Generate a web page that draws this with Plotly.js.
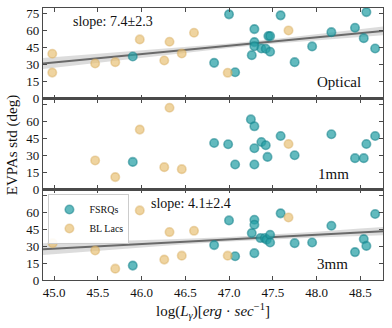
<!DOCTYPE html>
<html>
<head>
<meta charset="utf-8">
<script src="https://cdn.plot.ly/plotly-3.0.1.min.js"></script>
<style>
  html, body { margin: 0; padding: 0; background: #fff; }
  #chart { width: 392px; height: 328px; }
</style>
</head>
<body>
<div id="chart"></div>
<script>
// ---- data ------------------------------------------------------------------
// Optical
const optFsrqX = [45.90, 47.00, 46.83, 47.07, 47.59, 47.29, 47.29, 47.29, 47.26, 47.37, 47.42, 47.45, 47.47, 47.47, 47.75, 47.95, 48.17, 48.44, 48.54, 48.57, 48.67];
const optFsrqY = [37.2, 74.4, 31.6, 23.3, 73.5, 61.4, 49.9, 46.3, 38.4, 44.3, 44.0, 55.2, 55.2, 41.4, 32.2, 46.1, 58.7, 62.6, 53.4, 76.4, 44.3];
const optBllX  = [44.98, 44.98, 45.47, 45.70, 45.98, 46.26, 46.32, 46.46, 46.60, 46.985, 47.68];
const optBllY  = [39.6, 23.0, 31.0, 32.2, 52.3, 33.7, 50.2, 39.9, 58.2, 22.8, 60.2];
// 1mm
const mmFsrqX = [45.90, 46.83, 46.99, 47.07, 47.25, 47.29, 47.29, 47.29, 47.37, 47.42, 47.44, 47.59, 47.75, 48.17, 48.44, 48.54, 48.57, 48.67];
const mmFsrqY = [24.2, 40.9, 39.8, 21.9, 61.7, 55.6, 36.3, 21.9, 41.8, 38.9, 28.6, 47.1, 30.1, 48.6, 27.5, 27.5, 40.0, 47.1];
const mmBllX  = [45.47, 45.70, 45.98, 46.32, 46.26, 46.46, 47.68];
const mmBllY  = [25.5, 10.8, 52.7, 72.0, 19.6, 17.8, 40.0];
// 3mm
const m3FsrqX = [45.90, 46.83, 47.00, 47.07, 47.29, 47.29, 47.26, 47.29, 47.59, 47.36, 47.41, 47.43, 47.47, 47.47, 47.75, 47.95, 48.17, 48.44, 48.54, 48.57, 48.67];
const m3FsrqY = [12.7, 30.8, 52.6, 21.0, 53.2, 48.8, 41.4, 23.7, 58.8, 37.0, 37.0, 35.5, 39.9, 33.1, 32.5, 33.1, 47.9, 24.6, 36.1, 30.1, 58.2];
const m3BllX  = [44.985, 45.47, 45.70, 45.98, 46.26, 46.32, 46.46, 46.60, 46.985, 47.68];
const m3BllY  = [32.5, 26.0, 10.0, 61.4, 18.0, 42.3, 21.5, 43.4, 21.5, 55.2];

// regression lines and confidence bands
const fitX     = [44.874, 48.76];
const optFitY  = [31.0, 59.8];
const m3FitY   = [27.2, 43.1];
const bandX    = [44.874, 45.5, 46.0, 46.5, 47.0, 47.5, 48.0, 48.5, 48.76];
const optLo    = [26.1, 31.7, 36.3, 40.7, 44.8, 48.4, 51.5, 54.4, 55.9];
const optHi    = [35.9, 39.5, 42.3, 45.3, 48.6, 52.4, 56.7, 61.2, 63.7];
const m3Lo     = [22.0, 25.8, 28.7, 31.5, 33.9, 36.0, 37.5, 38.8, 39.4];
const m3Hi     = [32.4, 33.8, 34.9, 36.3, 37.9, 40.0, 42.5, 45.4, 46.8];

const xTicks = [45.0, 45.5, 46.0, 46.5, 47.0, 47.5, 48.0, 48.5];
const yTicksTop = [0, 15, 30, 45, 60, 75];
const yTicks = [0, 15, 30, 45, 60];     // lower panels: the 75 tick carries no label
const panelLabels = ['Optical', '1mm', '3mm'];
const slopeLabels = ['slope: 7.4±2.3', 'slope: 4.1±2.4'];

// ---- style -----------------------------------------------------------------
const FONT = 'Liberation Serif, Times New Roman, serif';
const TEAL = 'rgba(38,160,165,0.72)', TEAL_EDGE = 'rgba(20,130,138,0.55)';
const SAND = 'rgba(232,192,115,0.68)', SAND_EDGE = 'rgba(215,170,90,0.45)';
const AX = '#4a4a4a';

function pts(x, y, name, xa, ya, legend) {
  const teal = name === 'FSRQs';
  return { x, y, xaxis: xa, yaxis: ya, type: 'scatter', mode: 'markers', name,
    showlegend: legend,
    marker: { size: 8.5, color: teal ? TEAL : SAND, line: { width: 1.6, color: teal ? TEAL_EDGE : SAND_EDGE } },
    hoverinfo: 'skip' };
}
function band(lo, hi, xa, ya) {
  return [
    { x: bandX, y: lo, xaxis: xa, yaxis: ya, mode: 'lines', line: { width: 0 }, showlegend: false, hoverinfo: 'skip' },
    { x: bandX, y: hi, xaxis: xa, yaxis: ya, mode: 'lines', line: { width: 0 }, fill: 'tonexty',
      fillcolor: 'rgba(140,140,140,0.3)', showlegend: false, hoverinfo: 'skip' },
  ];
}
function fit(y, xa, ya) {
  return { x: fitX, y, xaxis: xa, yaxis: ya, mode: 'lines', line: { color: '#6a6a6a', width: 2 },
    showlegend: false, hoverinfo: 'skip' };
}

const traces = [
  ...band(optLo, optHi, 'x', 'y'), fit(optFitY, 'x', 'y'),
  pts(optFsrqX, optFsrqY, 'FSRQs', 'x', 'y', false),
  pts(optBllX, optBllY, 'BL Lacs', 'x', 'y', false),
  pts(mmFsrqX, mmFsrqY, 'FSRQs', 'x2', 'y2', false),
  pts(mmBllX, mmBllY, 'BL Lacs', 'x2', 'y2', false),
  ...band(m3Lo, m3Hi, 'x3', 'y3'), fit(m3FitY, 'x3', 'y3'),
  pts(m3FsrqX, m3FsrqY, 'FSRQs', 'x3', 'y3', true),
  pts(m3BllX, m3BllY, 'BL Lacs', 'x3', 'y3', true),
];

function xAxis(anchor, labels) {
  return { anchor, range: [44.874, 48.76], tickvals: xTicks, ticktext: xTicks.map((v) => v.toFixed(1)),
    showticklabels: labels, ticks: 'inside', ticklen: 4, tickcolor: AX, mirror: 'ticks',
    showline: true, linecolor: AX, linewidth: 1.2, showgrid: false, zeroline: false,
    tickfont: { family: FONT, size: 13, color: '#111' } };
}
function yAxis(anchor, domain, top) {
  return { anchor, domain, range: [0, 80], tickvals: top ? yTicksTop : yTicks,
    ticks: 'inside', ticklen: 4, tickcolor: AX, mirror: 'ticks',
    minor: top ? undefined : { dtick: 15, tick0: 0, ticks: 'inside', ticklen: 4, tickcolor: AX, showgrid: false },
    showline: true, linecolor: AX, linewidth: 1.2, showgrid: false, zeroline: false,
    tickfont: { family: FONT, size: 13, color: '#111' } };
}

const txt = (text, x, y, xref, yref, size) => ({ text, x, y, xref, yref, showarrow: false,
  xanchor: 'center', yanchor: 'middle', font: { family: FONT, size, color: '#111' } });

const layout = {
  width: 392, height: 328,
  margin: { l: 43, r: 9, t: 8, b: 48 },
  paper_bgcolor: '#fff', plot_bgcolor: '#fff',
  font: { family: FONT, color: '#111' },
  xaxis: xAxis('y', false),
  xaxis2: xAxis('y2', false),
  xaxis3: xAxis('y3', true),
  yaxis: yAxis('x', [0.6667, 1], true),
  yaxis2: yAxis('x2', [0.3333, 0.6667], false),
  yaxis3: yAxis('x3', [0, 0.3333], false),
  showlegend: true,
  legend: { x: 0.016, y: 0.316, xanchor: 'left', yanchor: 'top', bgcolor: 'rgba(255,255,255,0.9)',
    bordercolor: '#cccccc', borderwidth: 1, font: { family: FONT, size: 10 },
    traceorder: 'normal', itemwidth: 30, tracegroupgap: 0 },
  annotations: [
    txt(slopeLabels[0], 45.67, 68.2, 'x', 'y', 14),
    txt(slopeLabels[1], 46.56, 67.4, 'x3', 'y3', 14),
    txt(panelLabels[0], 48.26, 15, 'x', 'y', 15),
    txt(panelLabels[1], 48.19, 13.4, 'x2', 'y2', 15),
    txt(panelLabels[2], 48.18, 14.2, 'x3', 'y3', 15),
    Object.assign(txt('EVPAs std (deg)', -0.091, 0.496, 'paper', 'paper', 15), { textangle: -90 }),
    txt('log(<i>L</i><sub><i>γ</i></sub>)[<i>erg</i> · <i>sec</i><sup>−1</sup>]', 0.5, -0.115, 'paper', 'paper', 15),
  ],
};

Plotly.newPlot('chart', traces, layout, { staticPlot: true, displayModeBar: false });
</script>
</body>
</html>
